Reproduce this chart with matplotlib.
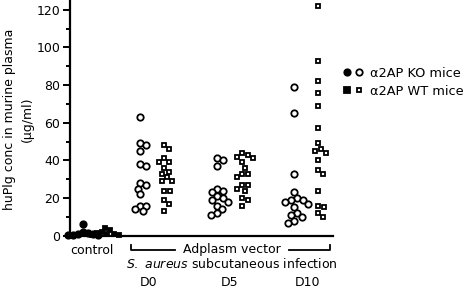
import numpy as np
import matplotlib
matplotlib.use("Agg")
import matplotlib.pyplot as plt
from matplotlib.lines import Line2D
from matplotlib.legend_handler import HandlerTuple

plt.rcParams['font.family'] = ['DejaVu Sans']
plt.rcParams['mathtext.fontset'] = 'custom'
plt.rcParams['mathtext.rm'] = 'DejaVu Sans'
plt.rcParams['mathtext.it'] = 'DejaVu Sans:italic'

# ---------------- data ----------------
groups = ["control", "D0", "D5", "D10"]
ko_control = [6, 2, 1.5, 1, 1, 0.5, 0.5, 0.3]
wt_control = [4, 3, 2, 1.5, 1, 1, 0.5, 0.5]
ko_d0 = [63, 49, 48, 45, 38, 37, 28, 27, 25, 22, 16, 16, 13, 14]
wt_d0 = [48, 46, 41, 39, 39, 36, 34, 33, 31, 29, 29, 24, 24, 19, 17, 13]
ko_d5 = [41, 40, 37, 25, 24, 23, 21, 20, 19, 18, 16, 14, 12, 11]
wt_d5 = [44, 43, 42, 41, 39, 36, 33, 33, 31, 27, 27, 25, 24, 20, 19, 16]
ko_d10 = [79, 65, 33, 23, 20, 19, 19, 18, 17, 15, 12, 11, 10, 8, 7]
wt_d10 = [122, 93, 82, 76, 69, 57, 49, 46, 45, 44, 40, 35, 33, 24, 16, 15, 12, 10]
legend_labels = ["\u03b12AP KO mice", "\u03b12AP WT mice"]
y_ticks = [0, 20, 40, 60, 80, 100, 120]

# ---------------- layout ----------------
FS = 9.0
W, H = 470, 291
fig = plt.figure(figsize=(W / 100, H / 100), dpi=100)
ax_left, ax_right, ax_bottom_px, ax_top_px = 70, 333, 235.7, 0.3
ax = fig.add_axes([ax_left / W, 1 - ax_bottom_px / H,
                   (ax_right - ax_left) / W, (ax_bottom_px - ax_top_px) / H])
ax.set_xlim(0, ax_right - ax_left)
ax.set_ylim(0, 125)

centers = {"ko_control": 13, "wt_control": 35,
           "ko_d0": 70, "wt_d0": 94,
           "ko_d5": 147, "wt_d5": 172,
           "ko_d10": 224, "wt_d10": 248}
px_per_y = (ax_bottom_px - ax_top_px) / 125.0


def swarm(vals, center, dmin=6.0):
    vals = np.asarray(vals, float)
    order = np.argsort(-vals)
    placed = []
    xs = np.zeros(len(vals))
    for i in order:
        ypx = vals[i] * px_per_y
        cands = [0.0]
        for s in np.arange(0.5, 30, 0.5):
            cands += [s, -s]
        for c in cands:
            ok = True
            for (px, py) in placed:
                if (px - c) ** 2 + (py - ypx) ** 2 < dmin ** 2:
                    ok = False
                    break
            if ok:
                break
        placed.append((c, ypx))
        xs[i] = center + c
    return xs


CIRC_MS, SQ_MS, MEW = 4.6, 3.3, 1.3
series = [
    ("ko_control", ko_control, 'o', True),
    ("wt_control", wt_control, 's', True),
    ("ko_d0", ko_d0, 'o', False),
    ("wt_d0", wt_d0, 's', False),
    ("ko_d5", ko_d5, 'o', False),
    ("wt_d5", wt_d5, 's', False),
    ("ko_d10", ko_d10, 'o', False),
    ("wt_d10", wt_d10, 's', False),
]
for key, vals, mk, filled in series:
    xs = swarm(vals, centers[key], dmin=5.0 if filled else 6.0)
    ms = CIRC_MS if mk == 'o' else SQ_MS
    ax.plot(xs, vals, linestyle='none', marker=mk, markersize=ms,
            markerfacecolor='black' if filled else 'white',
            markeredgecolor='black', markeredgewidth=MEW, clip_on=False, zorder=3)

for side in ['top', 'right']:
    ax.spines[side].set_visible(False)
for side in ['left', 'bottom']:
    ax.spines[side].set_linewidth(1.6)
ax.set_yticks(y_ticks)
ax.set_yticks(np.arange(10, 125, 20), minor=True)
ax.tick_params(axis='y', which='major', length=5, width=1.4, labelsize=FS, pad=2)
ax.tick_params(axis='y', which='minor', length=3, width=1.4)
ax.set_xticks([])

fig.text(10 / W, 1 - 119 / H, "huPlg conc in murine plasma", rotation=90,
         ha='center', va='center', fontsize=FS)
fig.text(27 / W, 1 - 119 / H, "(\u03bcg/ml)", rotation=90,
         ha='center', va='center', fontsize=FS)


def fx(x):
    return x / W


def fy(y):
    return 1 - y / H


fig.text(fx(92), fy(250), "control", ha='center', va='center', fontsize=FS)
brk_y = 250
fig.add_artist(Line2D([fx(131), fx(131), fx(175)], [fy(245), fy(brk_y), fy(brk_y)],
                      color='black', lw=1.3))
fig.add_artist(Line2D([fx(289), fx(330), fx(330)], [fy(brk_y), fy(brk_y), fy(245)],
                      color='black', lw=1.3))
fig.text(fx(232), fy(brk_y), "Adplasm vector", ha='center', va='center', fontsize=FS)
fig.text(fx(232), fy(264), r"$\it{S.\ aureus}$ subcutaneous infection",
         ha='center', va='center', fontsize=FS)
for lab, xp in zip(groups[1:], [149, 230, 307]):
    fig.text(fx(xp), fy(283), lab, ha='center', va='center', fontsize=FS)

# legend
h_ko_f = Line2D([], [], ls='none', marker='o', ms=CIRC_MS, mfc='black', mec='black', mew=MEW)
h_ko_o = Line2D([], [], ls='none', marker='o', ms=CIRC_MS, mfc='white', mec='black', mew=MEW)
h_wt_f = Line2D([], [], ls='none', marker='s', ms=SQ_MS + 1, mfc='black', mec='black', mew=MEW)
h_wt_o = Line2D([], [], ls='none', marker='s', ms=SQ_MS, mfc='white', mec='black', mew=MEW)
fig.legend([(h_ko_f, h_ko_o), (h_wt_f, h_wt_o)], legend_labels,
           handler_map={tuple: HandlerTuple(ndivide=None, pad=0.3)},
           loc='upper left', bbox_to_anchor=(fx(343), fy(67)), frameon=False,
           fontsize=9.3, handlelength=1.5, handletextpad=0.6, labelspacing=0.38,
           borderaxespad=0, borderpad=0)

fig.savefig("out.png", dpi=100)
